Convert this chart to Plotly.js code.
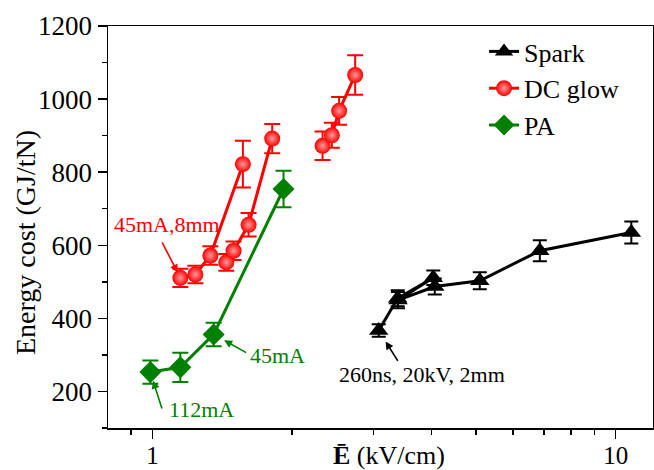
<!DOCTYPE html>
<html>
<head>
<meta charset="utf-8">
<script src="https://cdn.plot.ly/plotly-3.0.1.min.js"></script>
<style>html,body{margin:0;padding:0;background:#fff;overflow:hidden}</style>
</head>
<body>
<div id="chart" style="width:654px;height:470px"></div>
<script>
// ---- data (E-field in kV/cm, energy cost in GJ/tN) ----
const sparkX   = [3.08, 3.385, 4.04, 3.39, 4.07, 5.09, 6.86, 10.81];
const sparkY   = [367, 455, 511, 450, 487, 503, 585, 635];
const sparkErr = [17, 22, 20, 22, 22, 23, 29, 30];

const dcAX   = [1.149, 1.238, 1.334, 1.568];
const dcAY   = [511, 520, 572, 822];
const dcAErr = [25, 24, 25, 64];

const dcBX   = [1.444, 1.497, 1.613, 1.814];
const dcBY   = [553, 585, 656, 892];
const dcBErr = [23, 25, 32, 40];

const dcCX   = [2.33, 2.44, 2.53, 2.74];
const dcCY   = [872, 901, 968, 1066];
const dcCErr = [39, 34, 38, 54];

const paX   = [0.99, 1.149, 1.356, 1.919];
const paY   = [253, 266, 356, 754];
const paErr = [32, 40, 32, 50];

const xTickVals = [1, 10];
const xTickText = ['1', '10'];
const xMinorVals = [0.9, 2, 3, 4, 5, 6, 7, 8, 9];
const yTickVals = [200, 400, 600, 800, 1000, 1200];

const seriesNames = ['Spark', 'DC glow', 'PA'];
const labelTexts = ['45mA,8mm', '45mA', '112mA', '260ns, 20kV, 2mm'];

// ---- styling ----
const FONT = 'Liberation Serif';
const RED = '#ff0000', GREEN = '#008000', BLACK = '#000000';

function errBar(arr, color, w) {
  return {type: 'data', array: arr, visible: true, color: color, thickness: 2, width: w};
}
const sphere = {symbol: 'circle', size: 16, color: RED, gradient: {type: 'radial', color: '#ff9a9a'}, line: {width: 0}};

const traces = [
  {
    x: sparkX, y: sparkY, name: seriesNames[0], mode: 'lines+markers',
    line: {color: BLACK, width: 3},
    marker: {symbol: 'triangle-up', size: 17, color: BLACK},
    error_y: errBar(sparkErr, BLACK, 7), legendgroup: 'spark'
  },
  {
    x: dcAX, y: dcAY, name: seriesNames[1], mode: 'lines+markers',
    line: {color: RED, width: 3}, marker: sphere,
    error_y: errBar(dcAErr, RED, 8), legendgroup: 'dc'
  },
  {
    x: dcBX, y: dcBY, name: seriesNames[1], mode: 'lines+markers', showlegend: false,
    line: {color: RED, width: 3}, marker: sphere,
    error_y: errBar(dcBErr, RED, 8), legendgroup: 'dc'
  },
  {
    x: dcCX, y: dcCY, name: seriesNames[1], mode: 'lines+markers', showlegend: false,
    line: {color: RED, width: 3}, marker: sphere,
    error_y: errBar(dcCErr, RED, 8), legendgroup: 'dc'
  },
  {
    x: paX, y: paY, name: seriesNames[2], mode: 'lines+markers',
    line: {color: GREEN, width: 3},
    marker: {symbol: 'diamond', size: 17, color: GREEN},
    error_y: errBar(paErr, GREEN, 8), legendgroup: 'pa'
  }
];

// plot area in pixels
const L = 108, R = 653, T = 26, B = 428;
const px = v => (v - L) / (R - L);
const py = v => (B - v) / (B - T);

function arrow(xv, yv, ax, ay, color, standoff) {
  return {x: Math.log10(xv), y: yv, xref: 'x', yref: 'y', ax: ax, ay: ay, text: '',
    showarrow: true, arrowhead: 2, arrowsize: 1, arrowwidth: 1.6, arrowcolor: color, standoff: standoff};
}
function label(text, cx, cy, color, size) {
  return {x: px(cx), y: py(cy), xref: 'paper', yref: 'paper', text: text, showarrow: false,
    xanchor: 'center', yanchor: 'middle', font: {family: FONT, size: size, color: color}};
}

const annotations = [
  label(labelTexts[0], 167, 224, RED, 22),
  arrow(dcAX[0], dcAY[0], -19, -37, RED, 6),
  label(labelTexts[1], 277, 355, GREEN, 22),
  arrow(paX[2], paY[2], 34, 19, GREEN, 12),
  label(labelTexts[2], 201, 409, GREEN, 22),
  arrow(paX[0], paY[0], 12, 38, GREEN, 9),
  label(labelTexts[3], 422, 374, BLACK, 22),
  arrow(sparkX[0], sparkY[0], 20, 32, BLACK, 13),
  // axis titles
  label('<b>Ē</b> (kV/cm)', 389, 455, BLACK, 26),
  Object.assign(label('Energy cost (GJ/tN)', 25, 243, BLACK, 28), {textangle: -90})
];

const layout = {
  width: 654, height: 470,
  margin: {l: L, r: 654 - R, t: T, b: 470 - B, pad: 0},
  paper_bgcolor: '#ffffff', plot_bgcolor: '#ffffff',
  font: {family: FONT, size: 26, color: BLACK},
  showlegend: true,
  legend: {x: 0.69, y: 0.995, xanchor: 'left', yanchor: 'top', bgcolor: 'rgba(0,0,0,0)',
    font: {family: FONT, size: 26, color: BLACK}, tracegroupgap: 0},
  xaxis: {
    type: 'log', range: [Math.log10(0.802), Math.log10(12.04)],
    tickmode: 'array', tickvals: xTickVals, ticktext: xTickText,
    ticks: 'outside', ticklen: 9, tickwidth: 1.5, tickcolor: BLACK,
    ticklabelstandoff: -5,
    minor: {tickmode: 'array', tickvals: xMinorVals, ticks: 'outside', ticklen: 5, tickwidth: 1.5, tickcolor: BLACK, showgrid: false},
    showline: true, mirror: true, linecolor: BLACK, linewidth: 1.5,
    showgrid: false, zeroline: false,
    tickfont: {family: FONT, size: 25, color: BLACK}
  },
  yaxis: {
    range: [100, 1200],
    tickmode: 'array', tickvals: yTickVals,
    ticks: 'outside', ticklen: 9, tickwidth: 1.5, tickcolor: BLACK,
    minor: {dtick: 100, ticks: 'outside', ticklen: 5, tickwidth: 1.5, tickcolor: BLACK, showgrid: false},
    showline: true, mirror: true, linecolor: BLACK, linewidth: 1.5,
    showgrid: false, zeroline: false,
    tickfont: {family: FONT, size: 27, color: BLACK}
  },
  annotations: annotations
};

Plotly.newPlot('chart', traces, layout, {staticPlot: true, displayModeBar: false});
</script>
</body>
</html>
